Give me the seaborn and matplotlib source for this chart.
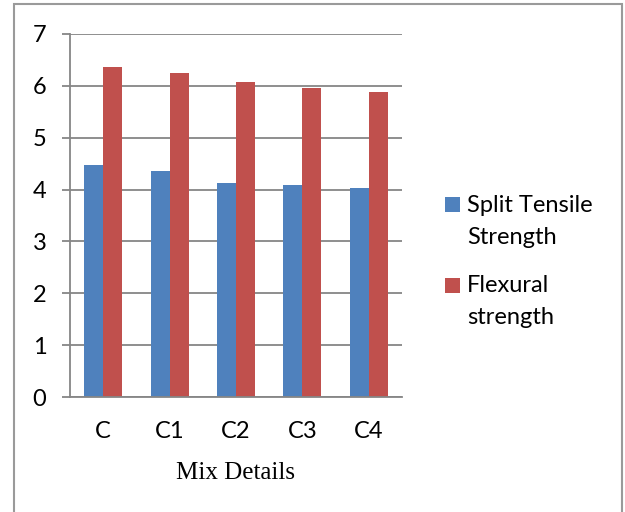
import matplotlib
matplotlib.use("Agg")
import matplotlib.pyplot as plt
import seaborn as sns
import pandas as pd
from matplotlib.patches import Rectangle

# Strength results per mix (MPa)
mixes = ["C", "C1", "C2", "C3", "C4"]
split_tensile = [4.48, 4.35, 4.12, 4.08, 4.03]
flexural = [6.37, 6.24, 6.07, 5.96, 5.88]
series_names = ["Split Tensile\nStrength", "Flexural\nstrength"]
series_colors = ["#4F81BD", "#C0504D"]
y_ticks = [0, 1, 2, 3, 4, 5, 6, 7]

df = pd.DataFrame({
    "Mix": mixes * 2,
    "Value": split_tensile + flexural,
    "Series": [series_names[0]] * len(mixes) + [series_names[1]] * len(mixes),
})

sns.set_theme(style="white")
plt.rcParams["font.family"] = ["Lato", "DejaVu Sans"]

W, H = 625, 512
fs = 17
fig = plt.figure(figsize=(W / 100, H / 100), dpi=100)
fig.patch.set_facecolor("white")

# outer chart frame
fig.add_artist(Rectangle((14 / W, -0.05), (622 - 14) / W, 1.05 - 4 / H,
                         transform=fig.transFigure, fill=False,
                         edgecolor="#9a9a9a", linewidth=1.5))

ax = fig.add_axes([70 / W, (H - 397) / H, (402 - 70) / W, (397 - 34) / H])
palette = dict(zip(series_names, series_colors))
sns.barplot(data=df, x="Mix", y="Value", hue="Series", palette=palette,
            width=0.57, saturation=1, linewidth=0, ax=ax, legend=False)

ax.set_ylim(0, 7)
ax.set_yticks(y_ticks)
ax.set_xlim(-0.5, len(mixes) - 0.5)
ax.yaxis.grid(True, color="#868686", linewidth=1.3)
ax.set_axisbelow(True)
for side in ["top", "right"]:
    ax.spines[side].set_visible(False)
for side in ["left", "bottom"]:
    ax.spines[side].set_color("#868686")
    ax.spines[side].set_linewidth(1.3)
ax.tick_params(axis="y", length=6, width=1.3, color="#868686", pad=11,
               labelsize=fs, labelcolor="black", left=True)
ax.tick_params(axis="x", length=0, pad=17, labelsize=fs, labelcolor="black")
ax.set_ylabel("")
ax.set_xlabel("Mix Details", fontfamily="Liberation Serif", fontsize=18,
              labelpad=15, color="black")

# legend: square key aligned with the first line of each two-line label
legend_rows = [(197, 205), (278, 285)]
for name, color, (key_top, text_mid) in zip(series_names, series_colors, legend_rows):
    fig.add_artist(Rectangle((445 / W, 1 - (key_top + 15) / H), 15 / W, 15 / H,
                             transform=fig.transFigure, facecolor=color,
                             edgecolor="none"))
    fig.text(467 / W, 1 - (text_mid - 10) / H, name, fontsize=fs,
             ha="left", va="top", linespacing=1.65, color="black")

fig.savefig("out.png", dpi=100)
